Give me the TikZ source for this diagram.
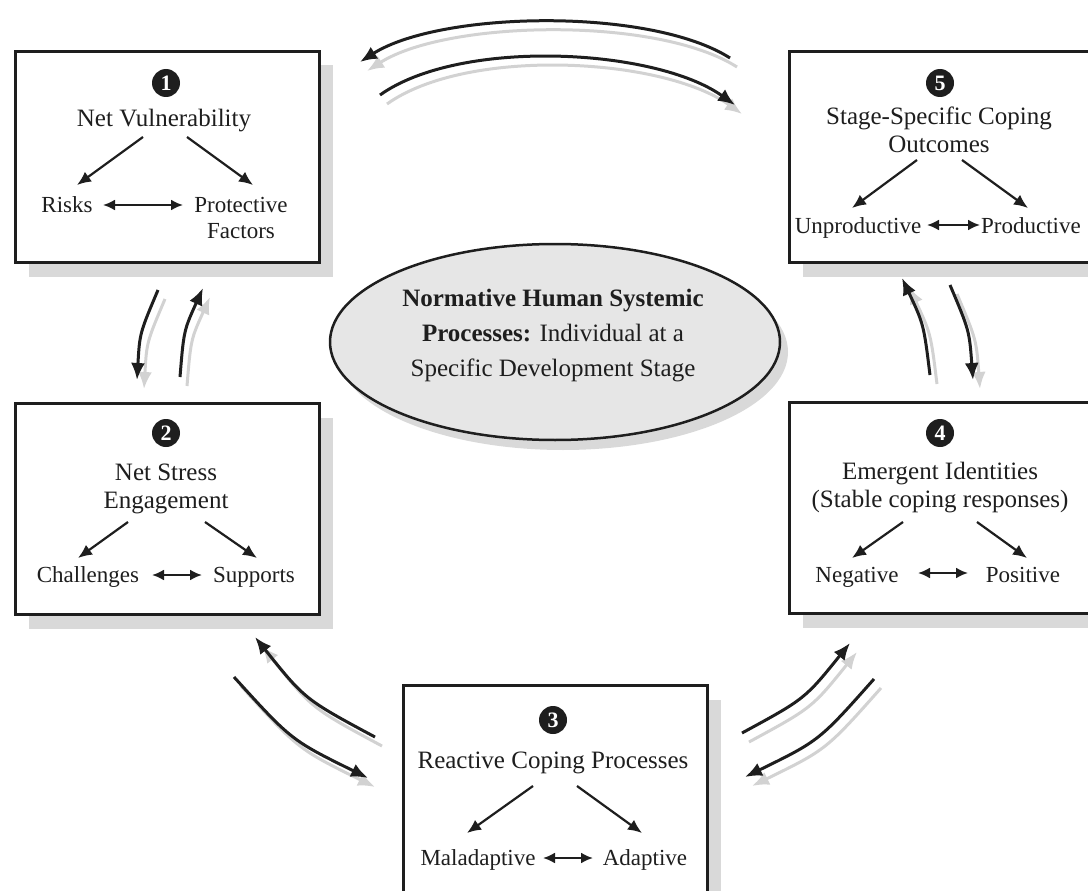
\documentclass[tikz,border=0pt]{standalone}
\usepackage{fontspec}
\setmainfont{Liberation Serif}
\usetikzlibrary{arrows.meta,shapes.geometric,shadows}

\definecolor{ink}{HTML}{1E1E1E}
\definecolor{boxshade}{HTML}{D9D9D9}
\definecolor{arrowshade}{HTML}{D2D2D2}
\definecolor{ovalfill}{HTML}{E6E6E6}

\tikzset{
  stagebox/.style={draw=ink, line width=3pt, fill=white, rectangle,
    minimum width=304pt, minimum height=211pt, inner sep=0pt, anchor=north west,
    drop shadow={shadow xshift=13pt, shadow yshift=-14pt, fill=boxshade, opacity=1}},
  numdot/.style={circle, fill=ink, text=white, minimum size=28pt, inner sep=0pt,
    font=\fontsize{22}{22}\selectfont\bfseries},
  % multi-line nodes are anchored on the baseline of their last line
  heading/.style={font=\fontsize{25}{28}\selectfont, text=ink, align=center,
    inner sep=0pt, anchor=base},
  sublabel/.style={font=\fontsize{23}{26}\selectfont, text=ink, align=center,
    inner sep=0pt, anchor=base},
  inarrow/.style={draw=ink, line width=2.2pt, -{Latex[length=14pt,width=12pt]}},
  dblarrow/.style={draw=ink, line width=2.2pt,
    {Latex[length=12pt,width=11pt]}-{Latex[length=12pt,width=11pt]}},
  cyclearrow/.style={draw=ink, line width=3pt, -{Latex[length=17pt,width=14pt]},
    preaction={draw=arrowshade, line width=3pt,
      transform canvas={shift={(7pt,-9pt)}}}},
}

\begin{document}
\begin{tikzpicture}[x=1pt, y=-1pt]
  \useasboundingbox (0,0) rectangle (1088,891);
  \clip (0,0) rectangle (1088,891);

  % ---------- central oval ----------
  \node[draw=ink, line width=2.5pt, fill=ovalfill, ellipse,
        minimum width=450pt, minimum height=196pt, inner sep=0pt,
        drop shadow={shadow xshift=8pt, shadow yshift=-10pt, fill=boxshade, opacity=1}]
        (oval) at (555,342) {};
  \node[heading, font=\fontsize{25}{35}\selectfont] (ovaltext) at (553,376)
    {\textbf{Normative Human Systemic}\\\textbf{Processes:} Individual at a\\Specific Development Stage};

  % ---------- stage boxes ----------
  \node[stagebox] (b1) at (14,50) {};
  \node[stagebox] (b2) at (14,402) {};
  \node[stagebox] (b3) at (402,684) {};
  \node[stagebox] (b4) at (788,401) {};
  \node[stagebox] (b5) at (788,50) {};

  % ---------- box 1 ----------
  \node[numdot] (n1) at (166,83) {1};
  \node[heading] (t1) at (164,126) {Net Vulnerability};
  \node[sublabel] (risks) at (67,212) {Risks};
  \node[sublabel] (protect) at (241,238) {Protective\\Factors};
  \coordinate (t1l) at (143,137); \coordinate (r1) at (77,185);
  \coordinate (t1r) at (187,137); \coordinate (p1) at (253,185);
  \coordinate (d1a) at (103,205); \coordinate (d1b) at (183,205);
  \draw[inarrow] (t1l) -- (r1);
  \draw[inarrow] (t1r) -- (p1);
  \draw[dblarrow] (d1a) -- (d1b);

  % ---------- box 2 ----------
  \node[numdot] (n2) at (166,433) {2};
  \node[heading] (t2) at (166,508) {Net Stress\\Engagement};
  \node[sublabel] (chal) at (88,582) {Challenges};
  \node[sublabel] (supp) at (254,582) {Supports};
  \coordinate (t2l) at (128,522); \coordinate (c2) at (78,558);
  \coordinate (t2r) at (205,522); \coordinate (s2) at (257,558);
  \coordinate (d2a) at (152,575); \coordinate (d2b) at (202,575);
  \draw[inarrow] (t2l) -- (c2);
  \draw[inarrow] (t2r) -- (s2);
  \draw[dblarrow] (d2a) -- (d2b);

  % ---------- box 3 ----------
  \node[numdot] (n3) at (553,720) {3};
  \node[heading] (t3) at (553,768) {Reactive Coping Processes};
  \node[sublabel] (mal) at (478,865) {Maladaptive};
  \node[sublabel] (adap) at (645,865) {Adaptive};
  \coordinate (t3l) at (533,786); \coordinate (m3) at (467,833);
  \coordinate (t3r) at (577,786); \coordinate (a3) at (642,833);
  \coordinate (d3a) at (543,858); \coordinate (d3b) at (593,858);
  \draw[inarrow] (t3l) -- (m3);
  \draw[inarrow] (t3r) -- (a3);
  \draw[dblarrow] (d3a) -- (d3b);

  % ---------- box 4 ----------
  \node[numdot] (n4) at (940,433) {4};
  \node[heading] (t4) at (940,507) {Emergent Identities\\(Stable coping responses)};
  \node[sublabel] (neg) at (857,582) {Negative};
  \node[sublabel] (pos) at (1023,582) {Positive};
  \coordinate (t4l) at (903,522); \coordinate (g4) at (852,558);
  \coordinate (t4r) at (977,522); \coordinate (q4) at (1027,558);
  \coordinate (d4a) at (918,573); \coordinate (d4b) at (968,573);
  \draw[inarrow] (t4l) -- (g4);
  \draw[inarrow] (t4r) -- (q4);
  \draw[dblarrow] (d4a) -- (d4b);

  % ---------- box 5 ----------
  \node[numdot] (n5) at (940,83) {5};
  \node[heading] (t5) at (939,152) {Stage-Specific Coping\\Outcomes};
  \node[sublabel] (unprod) at (858,233) {Unproductive};
  \node[sublabel] (prod) at (1031,233) {Productive};
  \coordinate (t5l) at (917,160); \coordinate (u5) at (852,208);
  \coordinate (t5r) at (962,160); \coordinate (v5) at (1028,208);
  \coordinate (d5a) at (927,225); \coordinate (d5b) at (980,225);
  \draw[inarrow] (t5l) -- (u5);
  \draw[inarrow] (t5r) -- (v5);
  \draw[dblarrow] (d5a) -- (d5b);

  % ---------- cycle connectors between stages ----------
  % 1 <-> 5 (top)
  \coordinate (c15s) at (380,95);  \coordinate (c15e) at (735,105);
  \coordinate (c51s) at (730,58);  \coordinate (c51e) at (360,62);
  \draw[cyclearrow] (c15s) .. controls (460,38) and (655,48) .. (c15e);
  \draw[cyclearrow] (c51s) .. controls (650,7) and (440,11) .. (c51e);
  % 1 <-> 2 (left)
  \coordinate (c12s) at (158,290); \coordinate (c12e) at (137,380);
  \coordinate (c21s) at (180,377); \coordinate (c21e) at (203,288);
  \draw[cyclearrow] (c12s) .. controls (139.7,333.2) .. (c12e);
  \draw[cyclearrow] (c21s) .. controls (183.8,330.5) .. (c21e);
  % 2 <-> 3 (lower left)
  \coordinate (c32s) at (375,737); \coordinate (c32e) at (255,637);
  \coordinate (c23s) at (234,677); \coordinate (c23e) at (368,778);
  \draw[cyclearrow] (c32s) .. controls (304.8,699.3) .. (c32e);
  \draw[cyclearrow] (c23s) .. controls (291.4,740.3) .. (c23e);
  % 3 <-> 4 (lower right)
  \coordinate (c34s) at (742,733); \coordinate (c34e) at (850,643);
  \coordinate (c43s) at (874,679); \coordinate (c43e) at (745,777);
  \draw[cyclearrow] (c34s) .. controls (805,698.8) .. (c34e);
  \draw[cyclearrow] (c43s) .. controls (819.2,740.7) .. (c43e);
  % 4 <-> 5 (right)
  \coordinate (c45s) at (930,375); \coordinate (c45e) at (902,278);
  \coordinate (c54s) at (950,285); \coordinate (c54e) at (973,380);
  \draw[cyclearrow] (c45s) .. controls (923.7,324.3) .. (c45e);
  \draw[cyclearrow] (c54s) .. controls (969.3,330.6) .. (c54e);
\end{tikzpicture}
\end{document}
